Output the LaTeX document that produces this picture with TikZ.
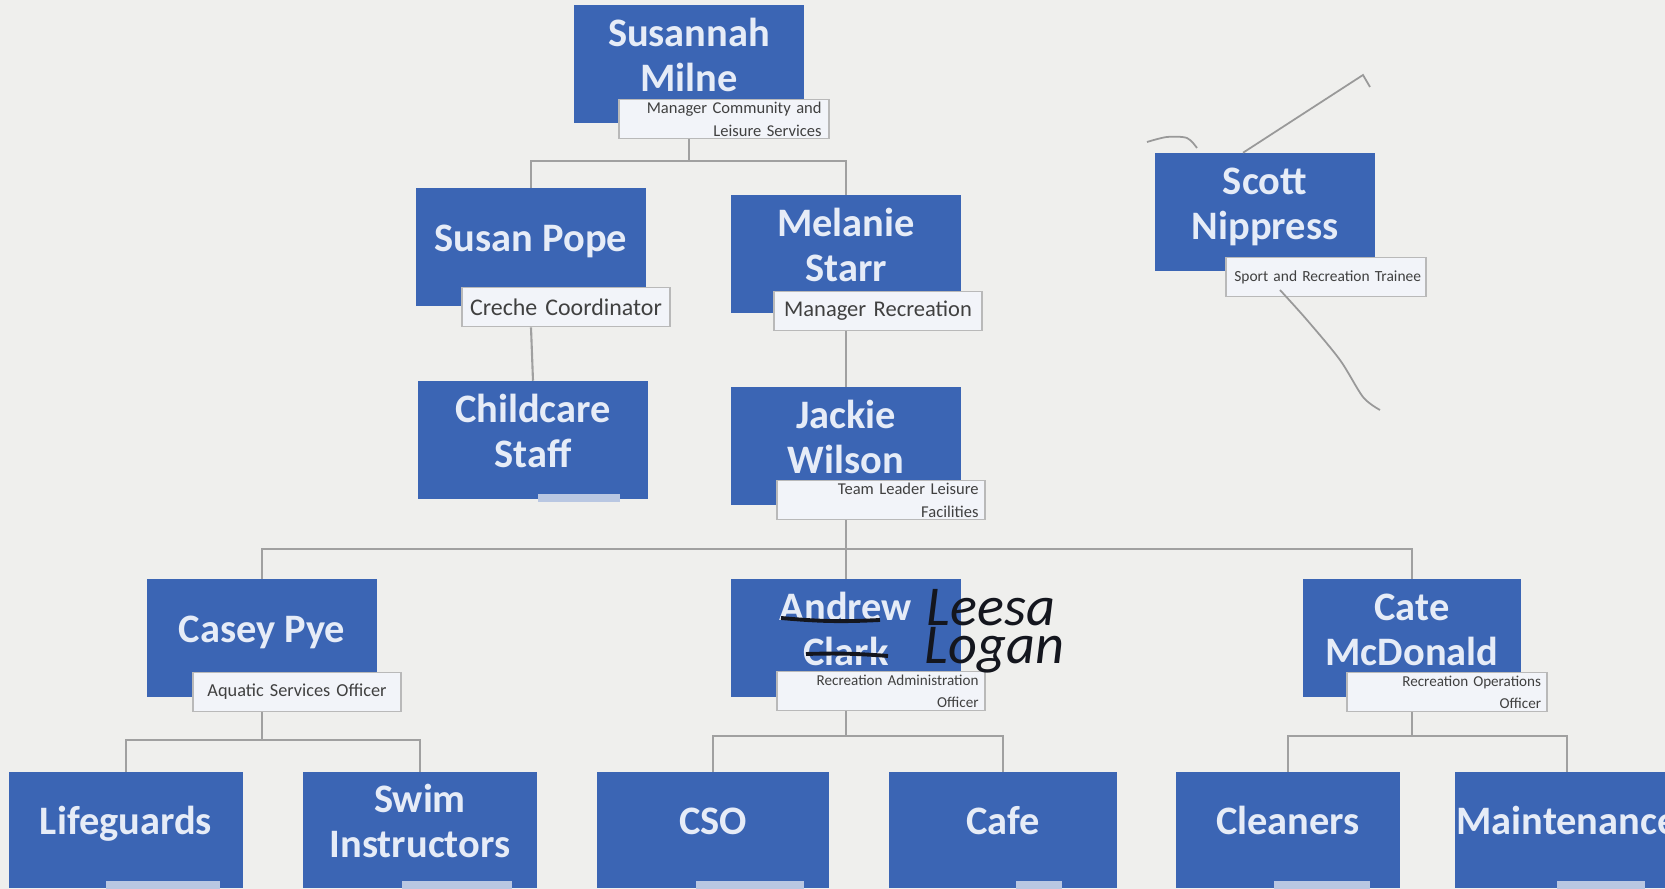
\documentclass[tikz,border=0pt]{standalone}
\usepackage{fontspec}
\setmainfont{Carlito}
\usepackage{xcolor}
\usetikzlibrary{positioning}

\definecolor{boxblue}{HTML}{3B65B4}
\definecolor{boxtext}{HTML}{E6ECF7}
\definecolor{paper}{HTML}{EFEFED}
\definecolor{linkgray}{HTML}{A0A0A0}
\definecolor{rolefill}{HTML}{F2F4F9}
\definecolor{rolestub}{HTML}{B9C7E2}
\definecolor{ink}{HTML}{14161E}

% nome sollevato nel riquadro
\newcommand{\pname}[1]{\raisebox{0pt}[\height][\dimexpr\depth+2.3pt\relax]{\begin{tabular}{@{}c@{}}#1\end{tabular}}}

\tikzset{
    person/.style = {fill=boxblue, text=boxtext, font=\bfseries\fontsize{11.5}{12.8}\selectfont,
        align=center, minimum width=2.3cm, minimum height=1.17cm, inner sep=0pt},
    role/.style = {draw=gray!55, fill=rolefill, text=black!75, line width=0.5pt,
        minimum width=2.08cm, minimum height=0.39cm, inner xsep=1.5pt, inner ysep=0.5pt,
        text width=1.95cm, align=right},
    stub/.style = {fill=rolestub, minimum height=0.08cm, inner sep=0pt},
    link/.style = {draw=linkgray, line width=0.6pt},
    scribble/.style = {draw=gray!80, line width=0.5pt},
    hand/.style = {text=ink, font=\itshape\fontsize{16}{17}\selectfont, inner sep=0pt}
}

\begin{document}
\begin{tikzpicture}[x=0.01cm, y=-0.01cm]
        % Foglio
        \useasboundingbox (0,0) rectangle (1665,889);
        \clip (0,0) rectangle (1665,889);
        \fill[paper] (0,0) rectangle (1665,889);
        % Linee dei collegamenti
        \coordinate (topBus) at (0,161);
        \coordinate (midBus) at (0,549);
        \coordinate (pyeBus) at (0,740);
        \coordinate (lowBus) at (0,736);
        % Primo livello
        \node[person] (milne) at (689,64) {\pname{Susannah\\Milne}};
        \node[role, font=\fontsize{4.7}{6.5}\selectfont, minimum width=2.1cm] (milneRole) at (724,119) {Manager Community and\\Leisure Services};
        \node[person, minimum width=2.2cm] (nippress) at (1265,212) {\pname{Scott\\Nippress}};
        \node[role, font=\fontsize{4.4}{5}\selectfont, minimum width=2cm, text width=1.9cm] (nippressRole) at (1326,277) {Sport and Recreation Trainee};
        % Secondo livello
        \node[person] (pope) at (531,247) {\pname{Susan Pope}};
        \node[role, font=\fontsize{6.8}{7.5}\selectfont, align=center] (popeRole) at (566,307) {Creche Coordinator};
        \node[person] (starr) at (846,254) {\pname{Melanie\\Starr}};
        \node[role, font=\fontsize{6.4}{7}\selectfont, align=center] (starrRole) at (878,311) {Manager Recreation};
        % Terzo livello
        \node[person] (childcare) at (533,440) {\pname{Childcare\\Staff}};
        \node[stub, minimum width=0.82cm] (childcareStub) at (579,498) {};
        \node[person] (wilson) at (846,446) {\pname{Jackie\\Wilson}};
        \node[role, font=\fontsize{4.7}{6.5}\selectfont] (wilsonRole) at (881,500) {Team Leader Leisure\\Facilities};
        % Quarto livello
        \node[person] (pye) at (262,638) {\pname{Casey Pye}};
        \node[role, font=\fontsize{5.2}{6}\selectfont, align=center] (pyeRole) at (297,692) {Aquatic Services Officer};
        \node[person] (clark) at (846,638) {\pname{Andrew\\Clark}};
        \node[role, font=\fontsize{4.3}{6.3}\selectfont] (clarkRole) at (881,691) {Recreation Administration\\Officer};
        \node[person, minimum width=2.18cm] (mcdonald) at (1412,638) {\pname{Cate\\McDonald}};
        \node[role, font=\fontsize{4.3}{6.3}\selectfont, minimum width=2cm, text width=1.88cm] (mcdonaldRole) at (1447,692) {Recreation Operations\\Officer};
        % Note a mano
        \draw[ink, line width=1.1pt] (781,618) to[bend right=4] (880,620);
        \draw[ink, line width=1.1pt] (806,654) to[bend left=3] (888,656);
        \node[hand, anchor=west] (leesa) at (926,608) {Leesa};
        \node[hand, anchor=west] (logan) at (924,650) {Logan};
        % Ultimo livello
        \node[person, minimum width=2.34cm, minimum height=1.15cm] (lifeguards) at (126,830) {\pname{Lifeguards}};
        \node[person, minimum width=2.33cm, minimum height=1.15cm] (swim) at (420,830) {\pname{Swim\\Instructors}};
        \node[person, minimum width=2.31cm, minimum height=1.15cm] (cso) at (713,830) {\pname{CSO}};
        \node[person, minimum width=2.28cm, minimum height=1.15cm] (cafe) at (1003,830) {\pname{Cafe}};
        \node[person, minimum width=2.24cm, minimum height=1.15cm] (cleaners) at (1288,830) {\pname{Cleaners}};
        \node[person, minimum width=2.24cm, minimum height=1.15cm] (maintenance) at (1567,830) {\pname{Maintenance}};
        \node[stub, minimum width=1.13cm] (lifeguardsStub) at (163,885) {};
        \node[stub, minimum width=1.1cm] (swimStub) at (457,885) {};
        \node[stub, minimum width=1.07cm] (csoStub) at (750,885) {};
        \node[stub, minimum width=0.46cm] (cafeStub) at (1039,885) {};
        \node[stub, minimum width=0.95cm] (cleanersStub) at (1322,885) {};
        \node[stub, minimum width=0.88cm] (maintenanceStub) at (1601,885) {};
        % Collegamenti
        \draw[link] (milne.south |- milneRole.south) -- (milne.south |- topBus);
        \draw[link] (pope.north) -- (pope.north |- topBus) -- (starr.north |- topBus) -- (starr.north);
        \draw[link] (pope.south |- popeRole.south) -- (childcare.north);
        \draw[link] (starr.south |- starrRole.south) -- (wilson.north);
        \draw[link] (wilson.south |- wilsonRole.south) -- (clark.north);
        \draw[link] (pye.north) -- (pye.north |- midBus) -- (mcdonald.north |- midBus) -- (mcdonald.north);
        \draw[link] (pye.south |- pyeRole.south) -- (pye.south |- pyeBus);
        \draw[link] (lifeguards.north) -- (lifeguards.north |- pyeBus) -- (swim.north |- pyeBus) -- (swim.north);
        \draw[link] (clark.south |- clarkRole.south) -- (clark.south |- lowBus);
        \draw[link] (cso.north) -- (cso.north |- lowBus) -- (cafe.north |- lowBus) -- (cafe.north);
        \draw[link] (mcdonald.south |- mcdonaldRole.south) -- (mcdonald.south |- lowBus);
        \draw[link] (cleaners.north) -- (cleaners.north |- lowBus) -- (maintenance.north |- lowBus) -- (maintenance.north);
        % Segni a matita vicino a Nippress
        \draw[scribble] plot[smooth] coordinates {(1147,142) (1167,137) (1187,138) (1197,148)};
        \draw[scribble] (nippress.north -| 1243,0) -- (1363,75) -- (1370,87);
        \draw[scribble] plot[smooth] coordinates {(1280,290) (1307,320) (1340,360) (1363,397) (1380,410)};
\end{tikzpicture}
\end{document}
